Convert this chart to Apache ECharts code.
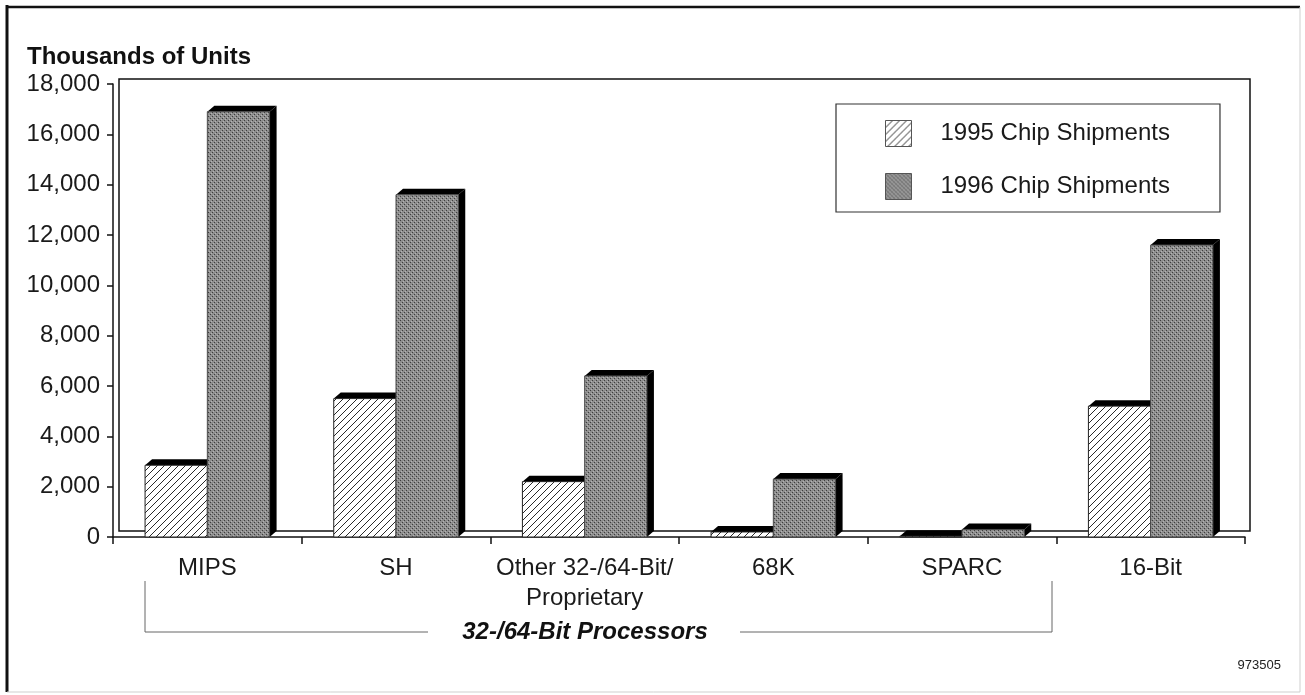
<!DOCTYPE html>
<html>
<head>
<meta charset="utf-8">
<script src="https://cdn.jsdelivr.net/npm/echarts@6/dist/echarts.min.js"></script>
<style>
html,body{margin:0;padding:0;background:#fff;}
#chart{width:1305px;height:695px;}
</style>
</head>
<body>
<div id="chart"></div>
<script>
// ---- data ----
var categories = ['MIPS', 'SH', 'Other 32-/64-Bit/\nProprietary', '68K', 'SPARC', '16-Bit'];
var ship1995 = [2850, 5500, 2200, 200, 30, 5200];
var ship1996 = [16900, 13600, 6400, 2300, 300, 11600];
var seriesNames = ['1995 Chip Shipments', '1996 Chip Shipments'];
var yTicks = { min: 0, max: 18000, interval: 2000 };
var yTitle = 'Thousands of Units';
var groupLabel = '32-/64-Bit Processors';
var docCode = '973505';

var FONT = '"Liberation Sans", Arial, Helvetica, sans-serif';
var FS = 24;

// hatch pattern for 1995
function hatch() {
  var c = document.createElement('canvas');
  var s = 7;
  c.width = s; c.height = s;
  var g = c.getContext('2d');
  g.fillStyle = '#ffffff'; g.fillRect(0, 0, s, s);
  g.strokeStyle = '#2a2a2a'; g.lineWidth = 1;
  g.beginPath();
  g.moveTo(0, s); g.lineTo(s, 0);
  g.moveTo(-1, 1); g.lineTo(1, -1);
  g.moveTo(s - 1, s + 1); g.lineTo(s + 1, s - 1);
  g.stroke();
  return c;
}
// stipple pattern for 1996
function stipple() {
  var c = document.createElement('canvas');
  c.width = 4; c.height = 4;
  var g = c.getContext('2d');
  g.fillStyle = '#8e8e8e'; g.fillRect(0, 0, 4, 4);
  g.fillStyle = '#3e3e3e'; g.fillRect(0, 0, 1, 1); g.fillRect(2, 2, 1, 1);
  g.fillStyle = '#b4b4b4'; g.fillRect(1, 3, 1, 1); g.fillRect(3, 1, 1, 1);
  return c;
}
var hatchFill = { image: hatch(), repeat: 'repeat' };
var stippleFill = { image: stipple(), repeat: 'repeat' };

// 3D bar drawn through the axes' scales
var DX = 7, DY = -6, BAR_RATIO = 0.33;
function make3DBar(slot, fill, stroke) {
  return function (params, api) {
    var cat = api.value(0), val = api.value(1);
    var base = api.coord([cat, 0]);
    var top = api.coord([cat, val]);
    var band = api.size([1, 0])[0];
    var bw = band * BAR_RATIO;
    var x0 = base[0] - bw + slot * bw;
    var x1 = x0 + bw;
    var yT = top[1], yB = base[1];
    return {
      type: 'group',
      children: [
        { type: 'polygon', shape: { points: [[x1, yT], [x1 + DX, yT + DY], [x1 + DX, yB + DY], [x1, yB]] }, style: { fill: '#000' } },
        { type: 'polygon', shape: { points: [[x0, yT], [x0 + DX, yT + DY], [x1 + DX, yT + DY], [x1, yT]] }, style: { fill: '#000' } },
        { type: 'rect', shape: { x: x0, y: yT, width: bw, height: yB - yT }, style: { fill: fill, stroke: stroke, lineWidth: 1 } }
      ]
    };
  };
}

var chart = echarts.init(document.getElementById('chart'), null, { renderer: 'canvas' });

var option = {
  backgroundColor: '#fff',
  animation: false,
  textStyle: { fontFamily: FONT },
  grid: [
    { left: 113, right: 60, top: 84, bottom: 158, show: false },
    { left: 119, right: 55, top: 79, bottom: 164, show: true, borderColor: '#111', borderWidth: 1.5, backgroundColor: 'transparent' }
  ],
  legend: {
    orient: 'vertical',
    left: 836, top: 104,
    padding: [16, 50, 12, 49],
    itemWidth: 26, itemHeight: 26, itemGap: 26,
    borderColor: '#333', borderWidth: 1.2,
    icon: 'rect',
    itemStyle: { borderColor: '#555', borderWidth: 1 },
    textStyle: { fontSize: FS, color: '#1a1a1a', fontFamily: FONT, padding: [0, 0, 0, 24] },
    data: seriesNames
  },
  xAxis: [
    {
      type: 'category', gridIndex: 0, data: categories, boundaryGap: true,
      axisLine: { lineStyle: { color: '#111', width: 1.5 } },
      axisTick: { show: true, length: 7, lineStyle: { color: '#111', width: 1.5 } },
      axisLabel: { color: '#1a1a1a', fontSize: FS, lineHeight: 30, margin: 16, fontFamily: FONT, interval: 0 }
    },
    { type: 'category', gridIndex: 1, show: false, data: categories }
  ],
  yAxis: [
    {
      type: 'value', gridIndex: 0, min: yTicks.min, max: yTicks.max, interval: yTicks.interval,
      axisLine: { show: true, lineStyle: { color: '#111', width: 1.5 } },
      axisTick: { show: true, length: 6, lineStyle: { color: '#111', width: 1.5 } },
      splitLine: { show: false },
      axisLabel: {
        color: '#1a1a1a', fontSize: FS, margin: 13, fontFamily: FONT,
        formatter: function (v) { return v.toLocaleString('en-US'); }
      }
    },
    { type: 'value', gridIndex: 1, show: false, min: yTicks.min, max: yTicks.max }
  ],
  series: [
    {
      name: seriesNames[0], type: 'custom', xAxisIndex: 0, yAxisIndex: 0,
      data: ship1995.map(function (v, i) { return [i, v]; }),
      encode: { x: 0, y: 1 },
      itemStyle: { color: hatchFill },
      renderItem: make3DBar(0, hatchFill, '#222'),
      z: 3
    },
    {
      name: seriesNames[1], type: 'custom', xAxisIndex: 0, yAxisIndex: 0,
      data: ship1996.map(function (v, i) { return [i, v]; }),
      encode: { x: 0, y: 1 },
      itemStyle: { color: stippleFill },
      renderItem: make3DBar(1, stippleFill, '#4a4a4a'),
      z: 4
    }
  ],
  graphic: [
    // outer frame
    { type: 'line', shape: { x1: 7, y1: 5, x2: 7, y2: 692 }, style: { stroke: '#111', lineWidth: 3 } },
    { type: 'line', shape: { x1: 6, y1: 7, x2: 1300, y2: 7 }, style: { stroke: '#111', lineWidth: 2.5 } },
    { type: 'line', shape: { x1: 1300, y1: 7, x2: 1300, y2: 692 }, style: { stroke: '#cfcfcf', lineWidth: 1 } },
    { type: 'line', shape: { x1: 7, y1: 692, x2: 1300, y2: 692 }, style: { stroke: '#cfcfcf', lineWidth: 1 } },
    // y title
    { type: 'text', x: 27, y: 57, style: { text: yTitle, fontSize: FS, fontWeight: 'bold', fontFamily: FONT, fill: '#111', verticalAlign: 'middle', align: 'left' } },
    // group bracket
    { type: 'polyline', shape: { points: [[145, 581], [145, 632], [428, 632]] }, style: { stroke: '#666', lineWidth: 1, fill: null } },
    { type: 'polyline', shape: { points: [[740, 632], [1052, 632], [1052, 581]] }, style: { stroke: '#666', lineWidth: 1, fill: null } },
    { type: 'text', x: 585, y: 632, style: { text: groupLabel, fontSize: FS, fontWeight: 'bold', fontStyle: 'italic', fontFamily: FONT, fill: '#111', align: 'center', verticalAlign: 'middle' } },
    // code
    { type: 'text', x: 1281, y: 665, style: { text: docCode, fontSize: 13, fontFamily: FONT, fill: '#222', align: 'right', verticalAlign: 'middle' } }
  ]
};
chart.setOption(option);
</script>
</body>
</html>
